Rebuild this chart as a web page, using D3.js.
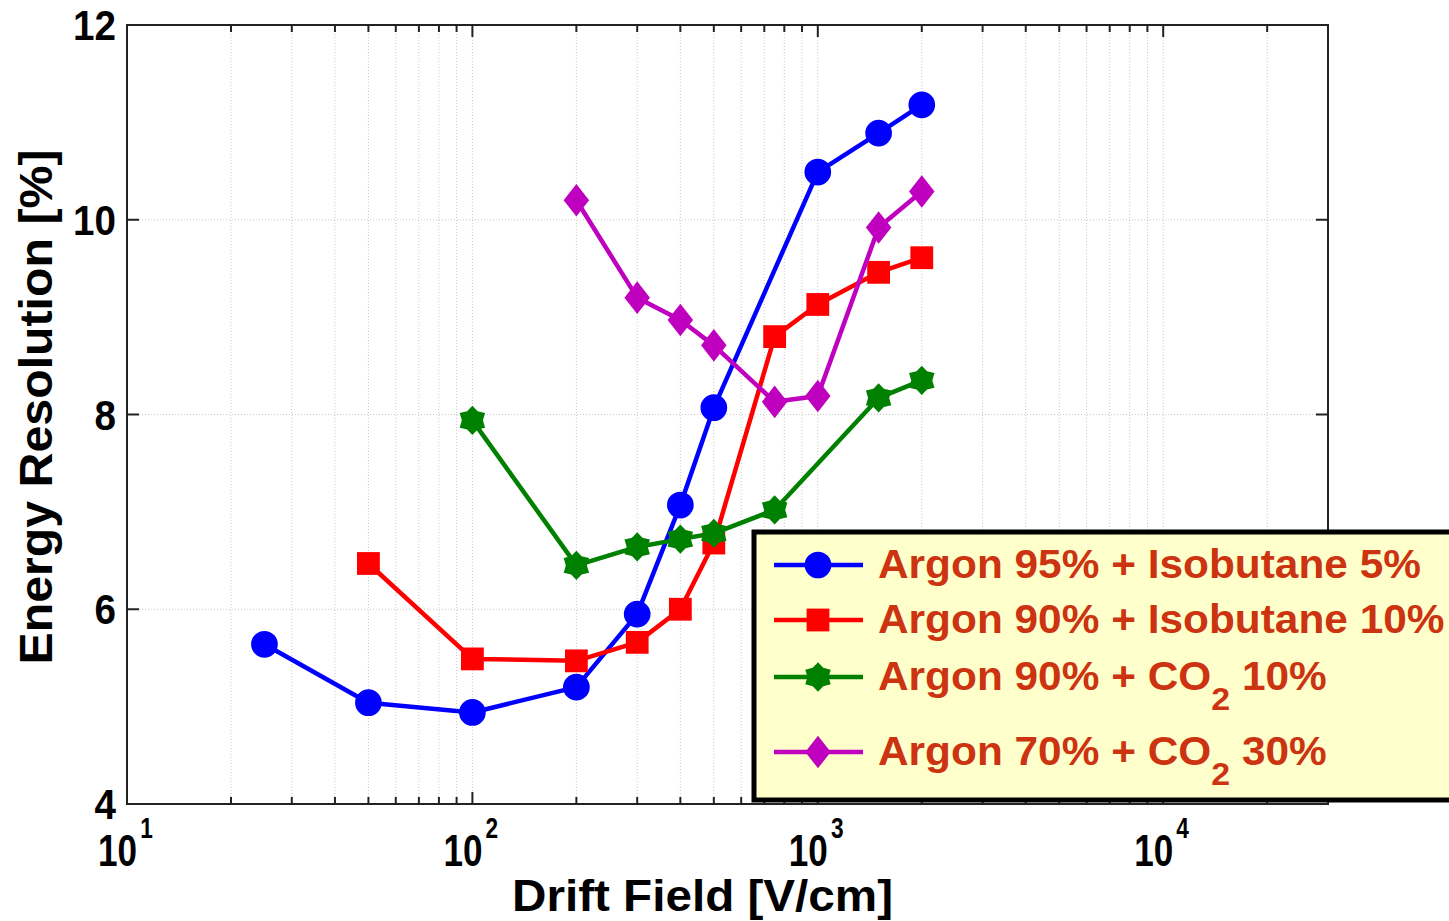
<!DOCTYPE html>
<html>
<head>
<meta charset='utf-8'>
<title>Energy Resolution vs Drift Field</title>
<script src='https://cdn.jsdelivr.net/npm/d3@7'></script>
<style>
  body { margin: 0; background: #fff; }
  text { font-family: 'Liberation Sans', Arial, sans-serif; font-weight: bold; }
</style>
</head>
<body>
<svg width='1449' height='921'></svg>
<script>
// data
const names = ['Argon 95% + Isobutane 5%', 'Argon 90% + Isobutane 10%', 'Argon 90% + CO2 10%', 'Argon 70% + CO2 30%']
const colors = ['#0000ff', '#ff0000', '#008000', '#bf00bf']
const symbols = ['circle', 'square', 'star6', 'diamond']
const fieldBlue = [25, 50, 100, 200, 300, 400, 500, 1000, 1500, 2000]
const resBlue = [5.64, 5.04, 4.94, 5.20, 5.95, 7.07, 8.07, 10.49, 10.89, 11.18]
const fieldRed = [50, 100, 200, 300, 400, 500, 750, 1000, 1500, 2000]
const resRed = [6.47, 5.49, 5.47, 5.66, 6.00, 6.68, 8.80, 9.13, 9.46, 9.61]
const fieldGreen = [100, 200, 300, 400, 500, 750, 1500, 2000]
const resGreen = [7.94, 6.45, 6.64, 6.72, 6.78, 7.02, 8.17, 8.35]
const fieldMag = [200, 300, 400, 500, 750, 1000, 1500, 2000]
const resMag = [10.20, 9.20, 8.97, 8.71, 8.13, 8.19, 9.92, 10.29]
const yTicks = [4, 6, 8, 10, 12]
const xDecades = [10, 100, 1000, 10000]

const series = [
  { f: fieldBlue, r: resBlue },
  { f: fieldRed, r: resRed },
  { f: fieldGreen, r: resGreen },
  { f: fieldMag, r: resMag }
].map((s, i) => ({ name: names[i], color: colors[i], sym: symbols[i], pts: s.f.map((v, j) => [v, s.r[j]]) }))

const svg = d3.select('svg')
const L = 127, T = 25, R = 1328, B = 804
const x = d3.scaleLog().domain([10, 30000]).range([L, R])
const y = d3.scaleLinear().domain([4, 12]).range([B, T])

// minor + major x positions inside the axes
const xAll = []
for (let d = 10; d <= 10000; d *= 10) for (let k = 1; k <= 9; k++) if (d * k > 10 && d * k < 30000) xAll.push(d * k)

const grid = svg.append('g').attr('stroke', '#c8c8c8').attr('stroke-width', 1).attr('stroke-dasharray', '1,2')
grid.selectAll('line.v').data(xAll).enter().append('line')
  .attr('x1', d => x(d)).attr('x2', d => x(d)).attr('y1', T).attr('y2', B)
grid.selectAll('line.h').data(yTicks.slice(1, -1)).enter().append('line')
  .attr('x1', L).attr('x2', R).attr('y1', d => y(d)).attr('y2', d => y(d))

// frame and ticks
const frame = svg.append('g').attr('stroke', '#222').attr('stroke-width', 2)
frame.append('rect').attr('x', L).attr('y', T).attr('width', R - L).attr('height', B - T).attr('fill', 'none')
frame.selectAll('line.xb').data(xAll).enter().append('line')
  .attr('x1', d => x(d)).attr('x2', d => x(d)).attr('y1', B).attr('y2', d => B - (xDecades.includes(d) ? 12 : 7))
frame.selectAll('line.xt').data(xAll).enter().append('line')
  .attr('x1', d => x(d)).attr('x2', d => x(d)).attr('y1', T).attr('y2', d => T + (xDecades.includes(d) ? 12 : 7))
frame.selectAll('line.yl').data(yTicks.slice(1, -1)).enter().append('line')
  .attr('x1', L).attr('x2', L + 12).attr('y1', d => y(d)).attr('y2', d => y(d))
frame.selectAll('line.yr').data(yTicks.slice(1, -1)).enter().append('line')
  .attr('x1', R).attr('x2', R - 12).attr('y1', d => y(d)).attr('y2', d => y(d))

// tick labels (condensed like the original)
svg.append('g').selectAll('text').data(yTicks).enter().append('text')
  .attr('transform', d => `translate(116,${y(d) + 15}) scale(0.92,1)`).attr('text-anchor', 'end')
  .attr('font-size', 42).text(d => d)
const xl = svg.append('g').selectAll('text').data(xDecades).enter().append('text')
  .attr('transform', d => `translate(${x(d) - 29},866) scale(0.78,1)`).attr('font-size', 45)
xl.append('tspan').text('10')
xl.append('tspan').attr('dy', -28).attr('dx', 4).attr('font-size', 29).text(d => Math.log10(d))

// axis titles
svg.append('text').attr('x', 512).attr('y', 911).attr('font-size', 45)
  .attr('textLength', 381).attr('lengthAdjust', 'spacingAndGlyphs').text('Drift Field [V/cm]')
svg.append('text').attr('transform', 'translate(52,407) rotate(-90)').attr('text-anchor', 'middle')
  .attr('font-size', 47).attr('textLength', 515).attr('lengthAdjust', 'spacingAndGlyphs')
  .text('Energy Resolution [%]')

// marker shapes
const star6 = {
  draw(ctx, size) {
    const ro = Math.sqrt(size) / 2, ri = ro * 0.72
    for (let i = 0; i < 12; i++) {
      const a = Math.PI / 6 * i - Math.PI / 2, r = i % 2 ? ri : ro
      i ? ctx.lineTo(r * Math.cos(a), r * Math.sin(a)) : ctx.moveTo(r * Math.cos(a), r * Math.sin(a))
    }
    ctx.closePath()
  }
}
const diamondTall = {
  draw(ctx, size) {
    const s = Math.sqrt(size), h = s * 0.64, w = s * 0.5
    ctx.moveTo(0, -h); ctx.lineTo(w, 0); ctx.lineTo(0, h); ctx.lineTo(-w, 0); ctx.closePath()
  }
}
const symType = { circle: [d3.symbolCircle, 560], square: [d3.symbolSquare, 520], star6: [star6, 860], diamond: [diamondTall, 650] }
const symbol = s => d3.symbol().type(symType[s][0]).size(symType[s][1])()

const line = d3.line().x(d => x(d[0])).y(d => y(d[1]))
const plot = svg.append('g')
series.forEach(s => {
  plot.append('path').attr('d', line(s.pts)).attr('fill', 'none')
    .attr('stroke', s.color).attr('stroke-width', 4.5).attr('stroke-linejoin', 'round')
  plot.append('g').selectAll('path').data(s.pts).enter().append('path')
    .attr('transform', d => `translate(${x(d[0])},${y(d[1])})`)
    .attr('d', symbol(s.sym)).attr('fill', s.color)
})

// legend
const lg = svg.append('g')
lg.append('rect').attr('x', 754).attr('y', 532).attr('width', 720).attr('height', 268)
  .attr('fill', '#ffffcc').attr('stroke', '#000').attr('stroke-width', 5)
const rowsY = [565, 620, 677, 752]
series.forEach((s, i) => {
  const g = lg.append('g').attr('transform', `translate(0,${rowsY[i]})`)
  g.append('line').attr('x1', 774).attr('x2', 863).attr('stroke', s.color).attr('stroke-width', 4.5)
  g.append('path').attr('transform', 'translate(818,0)').attr('d', symbol(s.sym)).attr('fill', s.color)
  const t = g.append('text').attr('transform', 'translate(878,13) scale(1.06,1)')
    .attr('font-size', 40).attr('fill', '#cc3311')
  const parts = s.name.split('CO2')
  t.append('tspan').text(parts[0] + (parts.length > 1 ? 'CO' : ''))
  if (parts.length > 1) {
    t.append('tspan').attr('dy', 20).attr('font-size', 32).text('2')
    t.append('tspan').attr('dy', -20).text(parts[1])
  }
})
</script>
</body>
</html>
